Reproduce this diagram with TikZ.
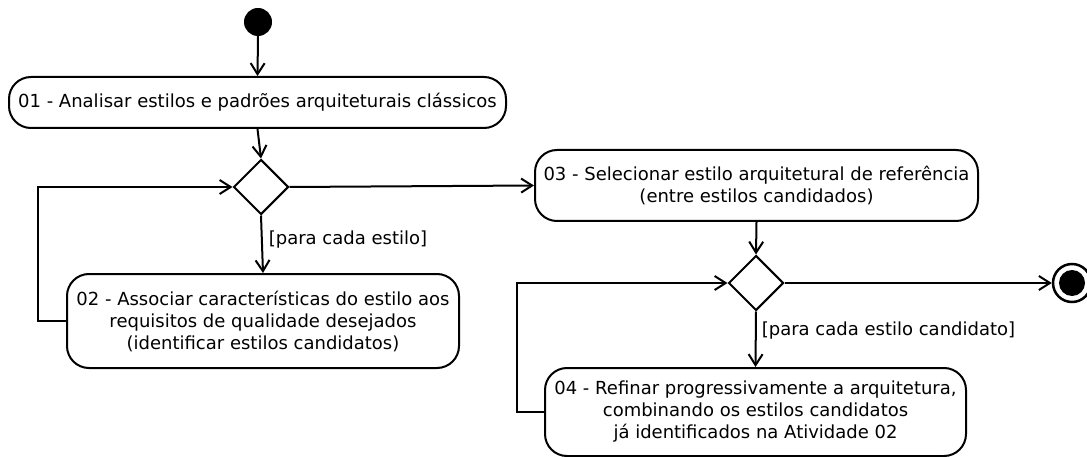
\documentclass[tikz,border=0pt]{standalone}
\usepackage{fontspec}
\setmainfont{DejaVu Sans}
\usetikzlibrary{shapes.geometric,arrows.meta}
\begin{document}
\begin{tikzpicture}[x=1pt,y=-1pt,
  every node/.style={font=\fontsize{18}{22}\selectfont},
  act/.style={draw,line width=2pt,rounded corners=22pt,align=center,inner sep=0pt},
  dec/.style={draw,diamond,line width=2pt,minimum width=55pt,minimum height=55pt,inner sep=0pt},
  flow/.style={line width=2pt,-{Straight Barb[length=11pt,width=14pt,line width=2pt]}},
  guard/.style={anchor=west,inner sep=0pt}]
\useasboundingbox (0,0) rectangle (1087,457);
\node[circle,fill=black,minimum size=28pt,inner sep=0pt] (start) at (258,22) {};
\node[act,minimum width=497pt,minimum height=51pt] (n1) at (257.5,102.5) {01 - Analisar estilos e padrões arquiteturais clássicos};
\node[dec] (d1) at (261,187) {};
\node[act,minimum width=392pt,minimum height=94pt] (n2) at (263,321) {02 - Associar características do estilo aos\\requisitos de qualidade desejados\\(identificar estilos candidatos)};
\node[act,minimum width=443pt,minimum height=71pt] (n3) at (756.5,185.5) {03 - Selecionar estilo arquitetural de referência\\(entre estilos candidados)};
\node[dec] (d2) at (756,283) {};
\node[act,minimum width=421pt,minimum height=88pt] (n4) at (755.5,412) {04 - Refinar progressivamente a arquitetura,\\combinando os estilos candidatos\\ já identificados na Atividade 02};
\node[circle,draw,line width=2.5pt,minimum size=38pt,inner sep=0pt] (end) at (1072,283) {};
\node[circle,fill=black,minimum size=26pt,inner sep=0pt] (endin) at (end.center) {};
\coordinate (l1) at (38,321);
\coordinate (l2) at (517,412);
\draw[flow] (start.south) -- (n1.north);
\draw[flow] (n1.south) -- (d1.north);
\draw[flow] (d1.south) -- node[guard,pos=0.42,xshift=6pt]{[para cada estilo]} (n2.north);
\draw[flow] (d1.east) -- (n3.west);
\draw[flow] (n2.west) -- (l1) |- (d1.west);
\draw[flow] (n3.south) -- (d2.north);
\draw[flow] (d2.east) -- (end.west);
\draw[flow] (d2.south) -- node[guard,pos=0.35,xshift=5pt]{[para cada estilo candidato]} (n4.north);
\draw[flow] (n4.west) -- (l2) |- (d2.west);
\end{tikzpicture}
\end{document}
